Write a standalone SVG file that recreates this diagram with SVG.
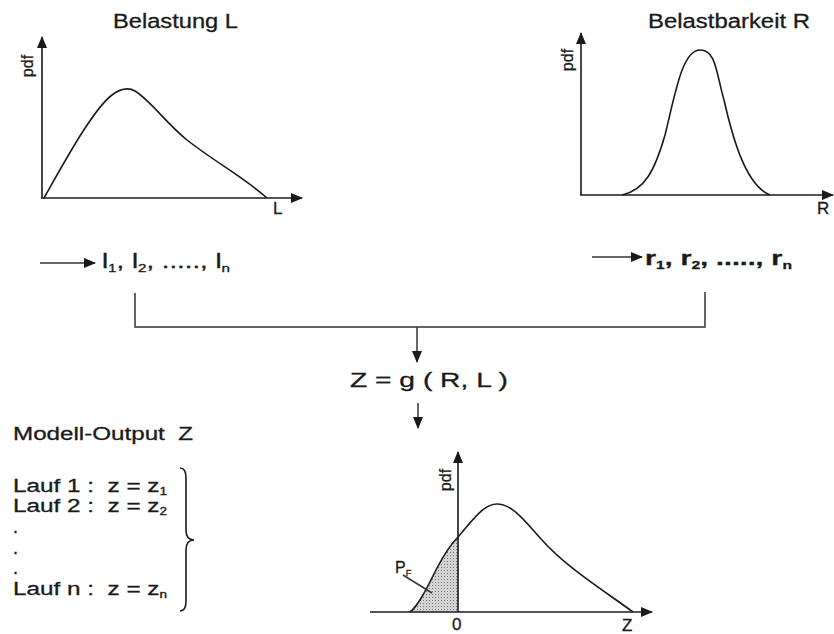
<svg xmlns="http://www.w3.org/2000/svg" width="834" height="634" viewBox="0 0 834 634">
<style>
text{font-family:"Liberation Sans",Arial,sans-serif;fill:#1a1a1a;stroke:#1a1a1a;stroke-width:0.3}
.ax{stroke:#1a1a1a;stroke-width:1.6;fill:none}
.cv{stroke:#1a1a1a;stroke-width:1.6;fill:none}
.ln{stroke:#333;stroke-width:1.5;fill:none}
.t{font-size:20px}
.lab{font-size:17px}
.pdf{font-size:16px}
</style>
<defs>
<marker id="ah" markerWidth="12" markerHeight="10" refX="11" refY="5" orient="auto" markerUnits="userSpaceOnUse">
<path d="M0,0 L12,5 L0,10 Z" fill="#1a1a1a"/>
</marker>
<pattern id="dots" width="3" height="3" patternUnits="userSpaceOnUse">
<rect width="3" height="3" fill="#d4d4d4"/><rect width="1" height="1" fill="#777"/>
</pattern>
</defs>

<g id="title-L"><text class="t" x="113" y="28" textLength="125" lengthAdjust="spacingAndGlyphs">Belastung L</text></g>
<g id="chart-L">
<line class="ax" x1="42" y1="198" x2="42" y2="37" marker-end="url(#ah)"/>
<line class="ax" x1="41" y1="198" x2="302" y2="198" marker-end="url(#ah)"/>
<text class="pdf" transform="translate(33,66) rotate(-90)" text-anchor="middle">pdf</text>
<text class="lab" x="273" y="214">L</text>
<path class="cv" d="M44,198 C60,170 92,110 112,95 C120,89 128,87 135,91 C150,100 165,122 187,140 C215,162 245,178 267,198"/>
</g>

<g id="title-R"><text class="t" x="648" y="28" textLength="162" lengthAdjust="spacingAndGlyphs">Belastbarkeit R</text></g>
<g id="chart-R">
<line class="ax" x1="581" y1="195" x2="581" y2="33" marker-end="url(#ah)"/>
<line class="ax" x1="580" y1="195" x2="833" y2="195" marker-end="url(#ah)"/>
<text class="pdf" transform="translate(573,60) rotate(-90)" text-anchor="middle">pdf</text>
<text class="lab" x="817" y="214">R</text>
<path class="cv" d="M622,195 C645,190 655,170 665,135 C675,95 682,50 700,50 C716,50 716,72 724,100 C732,135 745,185 770,195"/>
</g>

<g id="seq-L"><text class="t" x="102" y="268" textLength="128" lengthAdjust="spacingAndGlyphs">l<tspan font-size="11" dy="4">1</tspan><tspan dy="-4">, l</tspan><tspan font-size="11" dy="4">2</tspan><tspan dy="-4">, ....., l</tspan><tspan font-size="11" dy="4">n</tspan></text></g>
<g id="seq-R"><text class="t" x="645" y="265" font-weight="bold" textLength="147" lengthAdjust="spacingAndGlyphs">r<tspan font-size="11" dy="4">1</tspan><tspan dy="-4">, r</tspan><tspan font-size="11" dy="4">2</tspan><tspan dy="-4">, ....., r</tspan><tspan font-size="11" dy="4">n</tspan></text></g>

<g id="formula"><text x="350" y="387" font-size="20" textLength="158" lengthAdjust="spacingAndGlyphs">Z = g ( R, L )</text></g>

<g id="output-list">
<text x="13" y="440" font-size="18" xml:space="preserve" textLength="180" lengthAdjust="spacingAndGlyphs">Modell-Output  Z</text>
<text x="13" y="492" font-size="18" xml:space="preserve" textLength="154" lengthAdjust="spacingAndGlyphs">Lauf 1 :  z = z<tspan font-size="10" dy="3">1</tspan></text>
<text x="13" y="512" font-size="18" xml:space="preserve" textLength="154" lengthAdjust="spacingAndGlyphs">Lauf 2 :  z = z<tspan font-size="10" dy="3">2</tspan></text>
<text x="13" y="533" font-size="18">.</text>
<text x="13" y="554" font-size="18">.</text>
<text x="13" y="574" font-size="18">.</text>
<text x="13" y="595" font-size="18" xml:space="preserve" textLength="154" lengthAdjust="spacingAndGlyphs">Lauf n :  z = z<tspan font-size="10" dy="3">n</tspan></text>
<path class="cv" d="M180,468 Q186,468 186,478 L186,530 Q186,540 194,540 Q186,540 186,550 L186,601 Q186,611 180,611"/>
</g>

<g id="chart-Z">
<path d="M410,612 C418,606 426,590 437,568 C446,551 452,543 458,537 L458,612 Z" fill="url(#dots)"/>
<line class="ax" x1="458" y1="612" x2="458" y2="452" marker-end="url(#ah)"/>
<line class="ax" x1="370" y1="612" x2="652" y2="612" marker-end="url(#ah)"/>
<text class="pdf" transform="translate(451,480) rotate(-90)" text-anchor="middle">pdf</text>
<path class="cv" d="M410,612 C418,606 426,590 437,568 C446,551 452,543 458,537 C472,521 483,504 497,504 C512,504 524,520 542,540 C565,566 600,588 633,612"/>
<text x="395" y="573" font-size="16">P<tspan font-size="9" dy="3">F</tspan></text>
<line class="ln" x1="403" y1="575" x2="432" y2="593" stroke-width="1.2"/>
<text class="lab" x="452" y="630">0</text>
<text class="lab" x="622" y="631">Z</text>
</g>

<g id="connectors">
<path class="ln" d="M135,293 L135,327 L705,327 L705,292"/>
<line class="ln" x1="417" y1="327" x2="417" y2="362" marker-end="url(#ah)"/>
<line class="ln" x1="418" y1="403" x2="418" y2="428" marker-end="url(#ah)"/>
<line class="ln" x1="40" y1="263" x2="95" y2="263" marker-end="url(#ah)"/>
<line class="ln" x1="592" y1="257" x2="642" y2="257" marker-end="url(#ah)"/>
</g>
</svg>
